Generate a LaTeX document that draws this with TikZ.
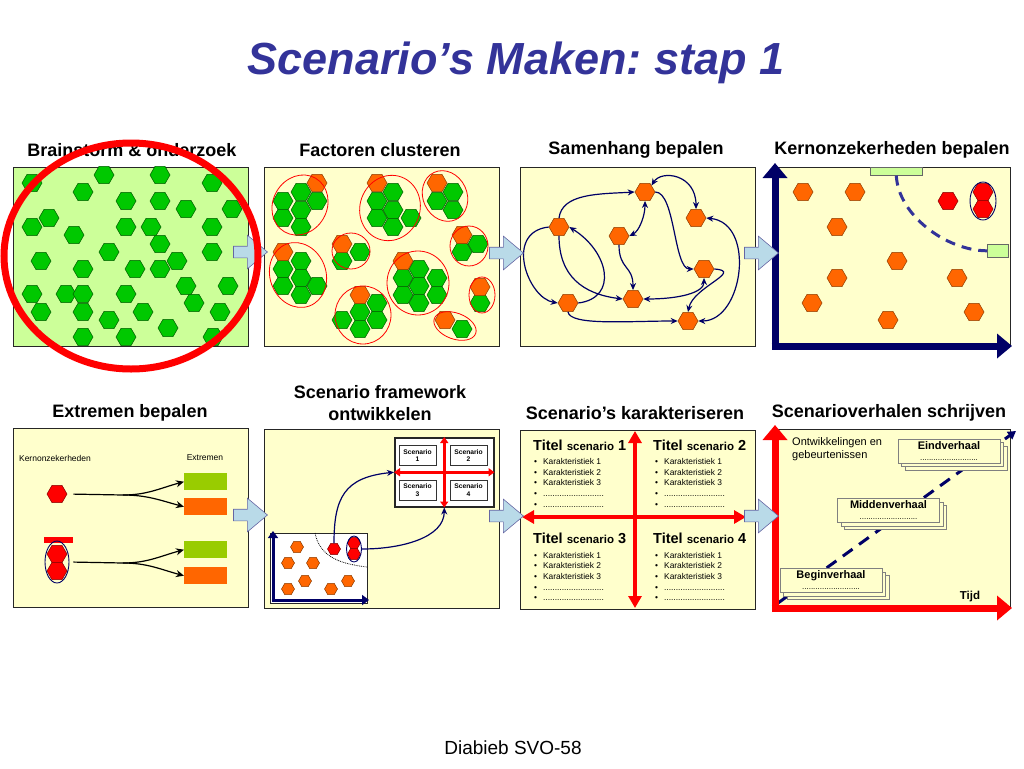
\documentclass[tikz,border=0pt]{standalone}
\usepackage{fontspec}
\setmainfont{Liberation Sans}
\usepackage{tikz}
\usetikzlibrary{positioning,shapes.geometric,shapes.arrows,arrows.meta,shadows}
\frenchspacing

\definecolor{paneyellow}{RGB}{255,255,204}
\definecolor{panegreen}{RGB}{204,255,153}
\definecolor{hexgreen}{RGB}{0,200,0}
\definecolor{hexgreenline}{RGB}{0,90,0}
\definecolor{hexorange}{RGB}{255,102,0}
\definecolor{hexorangeline}{RGB}{140,60,0}
\definecolor{hexredline}{RGB}{130,0,0}
\definecolor{navy}{RGB}{0,0,102}
\definecolor{dashblue}{RGB}{51,51,153}
\definecolor{titleblue}{RGB}{51,51,153}
\definecolor{arrowblue}{RGB}{185,218,232}
\definecolor{barlime}{RGB}{153,204,0}
\definecolor{barlight}{RGB}{204,255,153}

\newcommand{\karlist}{%
  \textbullet\hspace{6pt}Karakteristiek 1\\
  \textbullet\hspace{6pt}Karakteristiek 2\\
  \textbullet\hspace{6pt}Karakteristiek 3\\
  \textbullet\hspace{6pt}..........................\\
  \textbullet\hspace{6pt}..........................}
\newcommand{\qtitle}[1]{Titel {\fontsize{11.5}{13}\selectfont scenario} #1}

\tikzset{
  pane/.style={draw=black!85, line width=0.9pt, fill=paneyellow, minimum width=235pt,
    minimum height=179pt, anchor=north west, inner sep=0pt},
  head/.style={font=\fontsize{18}{22}\selectfont\bfseries, align=center},
  hexg/.style={regular polygon, regular polygon sides=6, minimum size=20pt, inner sep=0pt,
    fill=hexgreen, draw=hexgreenline, line width=0.5pt},
  hexo/.style={hexg, fill=hexorange, draw=hexorangeline},
  hexr/.style={hexg, fill=red, draw=hexredline},
  hexsmall/.style={minimum size=13pt},
  cluster/.style={draw=red, line width=0.8pt},
  flowarrow/.style={single arrow, draw=navy!60, line width=0.6pt, fill=arrowblue,
    inner sep=5.5pt, single arrow head extend=11pt, single arrow tip angle=80,
    minimum height=34pt},
  link/.style={draw=navy, line width=1.2pt, -{Stealth[length=7pt,width=6pt]}},
  dlink/.style={link, {Stealth[length=7pt,width=6pt]}-{Stealth[length=7pt,width=6pt]}},
  blink/.style={draw=black, line width=1.2pt},
  barrow/.style={blink, -{Stealth[length=8pt,width=7pt]}},
  bigaxis/.style={line width=7pt, -{Triangle[length=15pt,width=24pt]}},
  lightbar/.style={draw=black!60, fill=barlight, line width=0.6pt, inner sep=0pt},
  extreme/.style={fill=barlime, minimum width=43pt, minimum height=17pt, inner sep=0pt},
  sbox/.style={draw=black!80, fill=white, line width=0.6pt, minimum width=37pt,
    minimum height=20pt, inner sep=0pt, align=center,
    font=\fontsize{6.7}{7.5}\selectfont\bfseries},
  quadtitle/.style={anchor=west, inner sep=0pt, font=\fontsize{14.5}{16}\selectfont\bfseries},
  quadlist/.style={anchor=north west, inner sep=0pt, align=left,
    font=\fontsize{8.4}{10.6}\selectfont},
  card/.style={draw=black!50, fill=paneyellow, line width=0.5pt, minimum width=102pt,
    minimum height=24pt, inner sep=1pt, align=center,
    double copy shadow={shadow xshift=3.5pt, shadow yshift=-3.5pt, fill=paneyellow, draw=black!50}},
  redcross/.style={red, line width=4.5pt,
    {Triangle[length=12pt,width=13pt]}-{Triangle[length=12pt,width=13pt]}},
  smallcross/.style={red, line width=2.5pt,
    {Triangle[length=6pt,width=8pt]}-{Triangle[length=6pt,width=8pt]}}
}

\begin{document}
\begin{tikzpicture}[x=1pt, y=-1pt]
\useasboundingbox (0,0) rectangle (1024,768);

% title and footer
\node[font=\fontsize{45}{50}\selectfont\bfseries\itshape, text=titleblue] (title) at (516,63) {Scenario’s Maken: stap 1};
\node[font=\fontsize{19}{22}\selectfont] (foot) at (513,748) {Diabieb SVO-58};

% headings
\node[head] (h1) at (132,150) {Brainstorm \& onderzoek};
\node[head] (h2) at (380,150) {Factoren clusteren};
\node[head] (h3) at (636,150) {Samenhang bepalen};
\node[head] (h4) at (892,150) {Kernonzekerheden bepalen};
\node[head] (h5) at (130,413) {Extremen bepalen};
\node[head] (h6) at (380,403) {Scenario framework\\ontwikkelen};
\node[head] (h7) at (635,413) {Scenario’s karakteriseren};
\node[head] (h8) at (889,413) {Scenarioverhalen schrijven};

% panels
\node[pane, fill=panegreen] (p1) at (13,167) {};
\node[pane] (p2) at (264,167) {};
\node[pane] (p3) at (520,167) {};
\node[pane] (p4) at (775,167) {};
\node[pane] (p5) at (13,428) {};
\node[pane] (p6) at (264,429) {};
\node[pane] (p7) at (520,430) {};
\node[pane] (p8) at (775,429) {};

% panel 1: brainstorm
\foreach \x/\y [count=\i] in {32/183,104/175,160/175,212/183,83/192,126/201,160/201,186/209,
    232/209,49/218,32/227,126/227,151/227,212/227,74/235,160/244,109/252,212/252,41/261,
    177/261,83/269,135/269,160/269,186/286,228/286,32/294,66/294,83/294,126/294,194/303,
    41/312,83/312,143/312,220/312,109/320,168/328,83/337,126/337,213/337}
  \node[hexg] (bs\i) at (\x,\y) {};

% panel 2: clusters
\foreach \x/\y [count=\i] in {301/192,283/201,317/201,301/210,283/218,301/227,
    393/192,377/201,393/210,377/218,411/218,393/227,453/192,437/201,453/210,
    301/261,283/269,301/278,283/286,317/286,301/295,360/252,342/261,
    419/269,403/278,437/278,419/286,403/295,437/295,419/303,
    377/303,360/312,342/320,377/320,360/329,478/244,462/252,480/303,462/329}
  \node[hexg] (cg\i) at (\x,\y) {};
\foreach \x/\y [count=\i] in {317/183,377/183,437/183,283/252,342/244,403/261,360/295,
    462/235,480/287,445/320}
  \node[hexo] (co\i) at (\x,\y) {};
\draw[cluster] (300,205) ellipse [x radius=27pt, y radius=31pt, rotate=-30];
\draw[cluster] (390,208) ellipse [x radius=30pt, y radius=33pt, rotate=-20];
\draw[cluster] (445,196) ellipse [x radius=22pt, y radius=26pt, rotate=25];
\draw[cluster] (298,275) ellipse [x radius=28pt, y radius=33pt, rotate=20];
\draw[cluster] (351,251) ellipse [x radius=19pt, y radius=18pt];
\draw[cluster] (418,283) ellipse [x radius=31pt, y radius=32pt];
\draw[cluster] (363,315) ellipse [x radius=28pt, y radius=29pt];
\draw[cluster] (469,246) ellipse [x radius=19pt, y radius=20pt];
\draw[cluster] (482,295) ellipse [x radius=13pt, y radius=18pt];
\draw[cluster] (455,326) ellipse [x radius=22pt, y radius=13pt, rotate=-20];

% panel 3: samenhang
\node[hexo] (n1) at (645,192) {};
\node[hexo] (n2) at (696,218) {};
\node[hexo] (n3) at (559,227) {};
\node[hexo] (n4) at (619,236) {};
\node[hexo] (n5) at (704,269) {};
\node[hexo] (n6) at (568,303) {};
\node[hexo] (n7) at (633,299) {};
\node[hexo] (n8) at (688,321) {};
\draw[link] (n3.north) .. controls +(3,-25) and +(-35,2) .. (n1.west);
\draw[dlink] (n1.north east) .. controls +(10,-16) and +(0,-35) .. (n2.north);
\draw[dlink] (n4.east) .. controls +(10,-5) and +(0,15) .. (n1.south);
\draw[link] (n1.east) .. controls +(20,0) and +(-20,0) .. (n5.west);
\draw[link] (n6.east) .. controls +(40,-5) and +(40,25) .. (n3.east);
\draw[link] (n3.west) .. controls +(-45,5) and +(-30,-5) .. (n6.west);
\draw[link] (n3.south) .. controls +(0,40) and +(-40,-5) .. (n7.west);
\draw[link] (n4.south) .. controls +(0,25) and +(0,-25) .. (n7.north);
\draw[dlink] (n7.east) .. controls +(35,0) and +(0,15) .. (n5.south);
\draw[link] (n6.south) .. controls +(2,14) and +(-50,0) .. (n8.west);
\draw[link] (n5.east) .. controls +(30,2) and +(5,-25) .. (n8.north);
\draw[dlink] (n2.east) .. controls +(50,5) and +(45,0) .. (n8.east);

% panel 4: kernonzekerheden
\foreach \x/\y [count=\i] in {803/192,855/192,837/227,897/261,837/278,957/278,812/303,888/320,974/312}
  \node[hexo] (ko\i) at (\x,\y) {};
\node[hexr] (kr1) at (948,201) {};
\node[hexr] (kr2) at (983,192) {};
\node[hexr] (kr3) at (983,209) {};
\node[draw=navy, line width=0.9pt, ellipse, minimum width=26pt, minimum height=38pt, inner sep=0pt] (kpair) at (983,201) {};
\node[lightbar, minimum width=52pt, minimum height=8pt, anchor=north west] (ktop) at (870,167) {};
\node[lightbar, minimum width=21pt, minimum height=13pt, anchor=north west] (kright) at (987,244) {};
\draw[dashblue, line width=3pt, dash pattern=on 10pt off 7pt] (ktop.south) .. controls +(2,40) and +(-40,0) .. (kright.west);
\draw[navy, bigaxis] (775,349.5) -- (775,163);
\draw[navy, bigaxis] (771.5,346) -- (1012,346);

% panel 5: extremen
\node[font=\fontsize{8.5}{10}\selectfont] (t5a) at (55,458) {Kernonzekerheden};
\node[font=\fontsize{8.5}{10}\selectfont] (t5b) at (205,458) {Extremen};
\node[hexr] (k1) at (57,494) {};
\node[fill=red, minimum width=29pt, minimum height=6pt, inner sep=0pt] (kbar) at (58.5,540) {};
\node[hexr] (k2a) at (57,554) {};
\node[hexr] (k2b) at (57,571) {};
\node[draw=navy, line width=0.9pt, ellipse, minimum width=24pt, minimum height=42pt, inner sep=0pt] (k2) at (57,562) {};
\node[extreme, anchor=north west] (e1) at (184,473) {};
\node[extreme, fill=hexorange, anchor=north west] (e2) at (184,498) {};
\node[extreme, anchor=north west] (e3) at (184,541) {};
\node[extreme, fill=hexorange, anchor=north west] (e4) at (184,567) {};
\coordinate (j1) at (123,495);
\coordinate (j2) at (123,563);
\draw[blink, shorten <=6pt] (k1.east) -- (j1);
\draw[barrow] (j1) to[out=0, in=195] (e1.west);
\draw[barrow] (j1) to[out=0, in=165] (e2.west);
\draw[blink, shorten <=4pt] (k2.east) -- (j2);
\draw[barrow] (j2) to[out=0, in=195] (e3.west);
\draw[barrow] (j2) to[out=0, in=165] (e4.west);

% panel 6: framework
\node[draw=black!85, fill=white, line width=1.5pt, minimum width=99pt, minimum height=69pt, anchor=north west, inner sep=0pt] (fw) at (394,437) {};
\node[sbox] (s1) at (417.5,455.5) {Scenario\\1};
\node[sbox] (s2) at (468.5,455.5) {Scenario\\2};
\node[sbox] (s3) at (417.5,490) {Scenario\\3};
\node[sbox] (s4) at (468.5,490) {Scenario\\4};
\draw[smallcross] (fw.west) -- (fw.east);
\draw[smallcross] (fw.north) -- (fw.south);
\node[draw=black!85, fill=white, line width=0.8pt, minimum width=97pt, minimum height=70pt, anchor=north west, inner sep=0pt] (mc) at (270,533) {};
\foreach \x/\y [count=\i] in {297/547,288/563,313/563,305/581,288/589,331/589,348/581}
  \node[hexo, hexsmall] (mo\i) at (\x,\y) {};
\draw[densely dotted, line width=0.8pt] (315,533) .. controls +(5,25) and +(-25,-3) .. (367,567);
\node[hexr, hexsmall] (m1) at (334,549) {};
\node[hexr, hexsmall] (m2a) at (354,543) {};
\node[hexr, hexsmall] (m2b) at (354,554) {};
\node[draw=navy, line width=0.9pt, ellipse, minimum width=15pt, minimum height=26pt, inner sep=0pt] (m2) at (354,549) {};
\draw[navy, line width=3pt, -{Triangle[length=7pt,width=10pt]}] (273,601.5) -- (273,531);
\draw[navy, line width=3pt, -{Triangle[length=7pt,width=10pt]}] (271.5,600) -- (369,600);
\draw[link] (m1.north) .. controls +(0,-45) and +(-50,5) .. (fw.west);
\draw[link] (m2.east) .. controls +(40,0) and +(0,30) .. (fw.south);

% panel 7: karakteriseren
\draw[redcross] (522,517) -- (746,517);
\draw[redcross] (635,431) -- (635,608);
\node[quadtitle] (q1) at (533,445) {\qtitle{1}};
\node[quadtitle] (q2) at (653,445) {\qtitle{2}};
\node[quadtitle] (q3) at (533,538) {\qtitle{3}};
\node[quadtitle] (q4) at (653,538) {\qtitle{4}};
\node[quadlist] (l1) at (534,458.5) {\karlist};
\node[quadlist] (l2) at (655,458.5) {\karlist};
\node[quadlist] (l3) at (534,552) {\karlist};
\node[quadlist] (l4) at (655,552) {\karlist};

% panel 8: verhalen
\node[anchor=north west, align=left, inner sep=0pt, font=\fontsize{11}{13}\selectfont] (ontw) at (792,437) {Ontwikkelingen en\\gebeurtenissen};
\draw[navy, line width=3pt, dash pattern=on 12pt off 8pt, -{Triangle[length=8pt,width=9pt]}] (778,603) -- (1016,431);
\node[card] (c1) at (949,451) {{\fontsize{11}{12}\selectfont\bfseries Eindverhaal}\\[-1pt]{\fontsize{8}{9}\selectfont ..........................}};
\node[card] (c2) at (888.5,510.5) {{\fontsize{11}{12}\selectfont\bfseries Middenverhaal}\\[-1pt]{\fontsize{8}{9}\selectfont ..........................}};
\node[card] (c3) at (831,580.5) {{\fontsize{11}{12}\selectfont\bfseries Beginverhaal}\\[-1pt]{\fontsize{8}{9}\selectfont ..........................}};
\node[font=\fontsize{11.5}{13}\selectfont\bfseries] (tijd) at (970,597) {Tijd};
\draw[red, bigaxis] (775,612) -- (775,425);
\draw[red, bigaxis] (771.5,608) -- (1012,608);

% step arrows
\node[flowarrow] (a1) at (247,252) {};
\node[flowarrow] (a2) at (503,253) {};
\node[flowarrow] (a3) at (758,253) {};
\node[flowarrow] (a4) at (247,515) {};
\node[flowarrow] (a5) at (503,516) {};
\node[flowarrow] (a6) at (758,516) {};

% selection
\draw[red, line width=7pt] (131,256) ellipse [x radius=127pt, y radius=113pt];
\end{tikzpicture}
\end{document}
